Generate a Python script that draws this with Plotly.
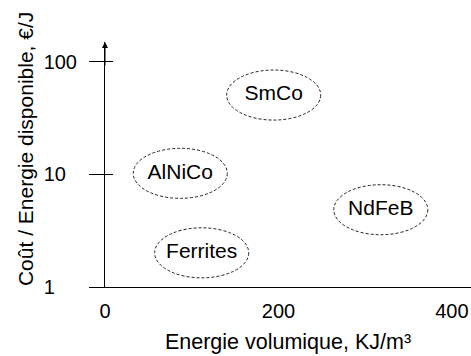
import math
import plotly.graph_objects as go

# Data
materials = ["SmCo", "AlNiCo", "NdFeB", "Ferrites"]
energy = [194.5, 86.8, 318, 111.5]    # KJ/m3 (centre of region)
cost = [50.5, 10.2, 4.85, 2.01]        # EUR/J (centre of region)
x_ticks = [0, 200, 400]
y_ticks = [1, 10, 100]
NB = "\u00a0"
y_tick_text = ["1" + NB * 4, "10" + NB * 2, "100"]

FONT = "Liberation Sans, Arial, sans-serif"

fig = go.Figure()

fig.add_trace(go.Scatter(
    x=energy, y=cost, mode="text", text=materials,
    textfont=dict(family=FONT, size=21, color="#000"),
    hoverinfo="skip", showlegend=False,
))

# dashed ellipses around each label
half_w = 54.2    # in KJ/m3
half_h = 0.222   # in decades
for xe, yc in zip(energy, cost):
    ly = math.log10(yc)
    fig.add_shape(
        type="circle", xref="x", yref="y",
        x0=xe - half_w, x1=xe + half_w,
        y0=10 ** (ly - half_h), y1=10 ** (ly + half_h),
        line=dict(color="#222", width=1, dash="3px,2px"),
    )

fig.update_layout(
    width=471, height=356,
    margin=dict(l=105, r=0, t=42, b=69, autoexpand=False),
    paper_bgcolor="white", plot_bgcolor="white",
    font=dict(family=FONT, size=20, color="#000"),
    showlegend=False,
    hovermode=False,
    xaxis=dict(
        range=[0, 422], tickvals=x_ticks, showgrid=False, zeroline=False,
        showline=True, linecolor="#000", linewidth=1, ticks="", automargin=False,
        tickfont=dict(size=20), ticklabelstandoff=6, ticklabeloverflow="allow",
        title=dict(text="Energie volumique, KJ/m³", font=dict(size=21.5), standoff=12),
    ),
    yaxis=dict(
        type="log", range=[0, 2.174], tickvals=y_ticks, ticktext=y_tick_text,
        showgrid=False, zeroline=False, showline=True, linecolor="#000", linewidth=1,
        ticks="outside", ticklen=15, tickcolor="#000", tickwidth=1, automargin=False,
        tickfont=dict(size=20), ticklabelstandoff=8,
        minor=dict(tickmode="array", tickvals=[10, 100], ticks="inside", ticklen=8,
                   tickcolor="#000", tickwidth=1, showgrid=False),
    ),
    annotations=[
        dict(
            xref="paper", yref="paper", x=0, y=1, ax=0, ay=25, text="",
            showarrow=True, arrowhead=2, arrowsize=1.2, arrowwidth=1, arrowcolor="#000",
            standoff=0,
        ),
        dict(
            xref="paper", yref="paper", x=-0.2186, y=0.563,
            text="Coût / Energie disponible, €/J", textangle=-90, showarrow=False,
            xanchor="center", yanchor="middle", font=dict(size=21),
        ),
    ],
)

fig.write_html(
    "out.html",
    config={"displayModeBar": False, "staticPlot": True},
    post_script="document.body.style.margin='0';document.body.style.overflow='hidden';",
)
